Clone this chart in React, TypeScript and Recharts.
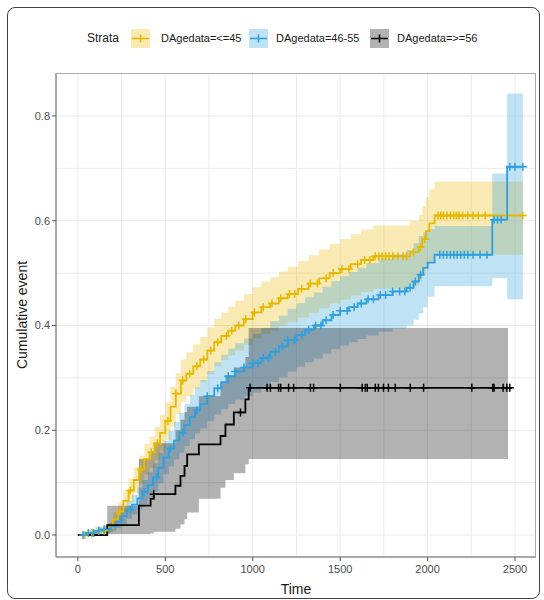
import React from 'react';
import { ComposedChart, Area, Line, Scatter, XAxis, YAxis, CartesianGrid } from 'recharts';

// DAgedata=<=45 : KM cumulative event with 95% CI
const youngTime = [0, 60, 110, 170, 200, 230, 260, 290, 320, 350, 380, 410, 440, 470, 500, 530, 560, 590, 620, 660, 700, 740, 780, 820, 860, 900, 950, 1000, 1050, 1100, 1150, 1200, 1260, 1320, 1380, 1440, 1500, 1560, 1620, 1690, 1900, 1950, 1970, 1990, 2010, 2040, 2545];
const youngEst = [0, 0.004, 0.008, 0.014, 0.03, 0.045, 0.065, 0.085, 0.105, 0.125, 0.145, 0.158, 0.175, 0.195, 0.218, 0.245, 0.27, 0.295, 0.308, 0.322, 0.335, 0.352, 0.368, 0.38, 0.39, 0.4, 0.412, 0.425, 0.435, 0.442, 0.452, 0.46, 0.47, 0.48, 0.49, 0.5, 0.508, 0.517, 0.525, 0.532, 0.54, 0.55, 0.565, 0.58, 0.595, 0.61, 0.61];
const youngLow = [0, 0, 0.002, 0.005, 0.016, 0.028, 0.045, 0.062, 0.08, 0.098, 0.116, 0.128, 0.143, 0.161, 0.182, 0.207, 0.23, 0.254, 0.266, 0.279, 0.291, 0.307, 0.322, 0.334, 0.343, 0.352, 0.363, 0.375, 0.384, 0.39, 0.399, 0.406, 0.415, 0.424, 0.433, 0.442, 0.449, 0.457, 0.464, 0.47, 0.476, 0.485, 0.497, 0.51, 0.522, 0.535, 0.535];
const youngHigh = [0, 0.009, 0.015, 0.024, 0.044, 0.062, 0.085, 0.108, 0.13, 0.152, 0.174, 0.188, 0.207, 0.229, 0.254, 0.283, 0.309, 0.335, 0.349, 0.364, 0.378, 0.396, 0.413, 0.425, 0.436, 0.447, 0.46, 0.473, 0.484, 0.492, 0.503, 0.512, 0.523, 0.534, 0.545, 0.556, 0.565, 0.574, 0.583, 0.591, 0.6, 0.611, 0.628, 0.645, 0.66, 0.675, 0.675];
const youngCensor = [40, 80, 120, 150, 240, 300, 360, 420, 455, 515, 560, 600, 640, 680, 720, 760, 800, 850, 880, 920, 960, 1010, 1060, 1110, 1160, 1210, 1240, 1280, 1330, 1370, 1420, 1460, 1510, 1550, 1600, 1640, 1670, 1700, 1720, 1740, 1760, 1780, 1800, 1830, 1860, 1880, 1920, 1960, 1985, 2060, 2075, 2090, 2110, 2130, 2150, 2165, 2180, 2200, 2230, 2260, 2290, 2330, 2545];

// DAgedata=46-55
const midTime = [0, 50, 100, 150, 190, 220, 250, 280, 310, 340, 370, 400, 430, 460, 490, 520, 550, 580, 610, 640, 670, 700, 740, 780, 820, 860, 900, 950, 1000, 1050, 1100, 1150, 1200, 1250, 1300, 1350, 1400, 1450, 1500, 1550, 1600, 1650, 1720, 1800, 1880, 1920, 1950, 1975, 2000, 2040, 2370, 2455, 2545];
const midEst = [0, 0.004, 0.008, 0.011, 0.016, 0.025, 0.036, 0.048, 0.058, 0.07, 0.082, 0.095, 0.11, 0.128, 0.148, 0.165, 0.18, 0.195, 0.21, 0.225, 0.238, 0.25, 0.265, 0.28, 0.292, 0.303, 0.312, 0.32, 0.328, 0.338, 0.35, 0.36, 0.372, 0.382, 0.392, 0.4, 0.41, 0.42, 0.428, 0.435, 0.442, 0.45, 0.458, 0.465, 0.472, 0.484, 0.497, 0.51, 0.52, 0.535, 0.602, 0.703, 0.703];
const midLow = [0, 0, 0.002, 0.004, 0.007, 0.013, 0.021, 0.031, 0.039, 0.049, 0.059, 0.07, 0.083, 0.099, 0.116, 0.131, 0.144, 0.157, 0.17, 0.183, 0.194, 0.204, 0.217, 0.23, 0.24, 0.25, 0.258, 0.265, 0.272, 0.281, 0.292, 0.301, 0.312, 0.321, 0.33, 0.337, 0.346, 0.355, 0.362, 0.368, 0.374, 0.381, 0.388, 0.394, 0.4, 0.411, 0.423, 0.435, 0.455, 0.475, 0.49, 0.45, 0.45];
const midHigh = [0, 0.009, 0.015, 0.019, 0.026, 0.038, 0.051, 0.065, 0.077, 0.091, 0.105, 0.12, 0.137, 0.157, 0.18, 0.199, 0.216, 0.233, 0.25, 0.267, 0.282, 0.296, 0.313, 0.33, 0.344, 0.356, 0.366, 0.375, 0.384, 0.395, 0.408, 0.419, 0.432, 0.443, 0.454, 0.463, 0.474, 0.485, 0.494, 0.502, 0.51, 0.519, 0.528, 0.536, 0.544, 0.557, 0.571, 0.578, 0.584, 0.59, 0.69, 0.843, 0.843];
const midCensor = [30, 60, 90, 120, 150, 300, 380, 450, 530, 600, 680, 740, 800, 860, 900, 950, 1000, 1030, 1060, 1090, 1130, 1170, 1200, 1240, 1280, 1320, 1360, 1390, 1420, 1460, 1500, 1540, 1580, 1620, 1660, 1690, 1730, 1760, 1800, 1840, 1870, 1900, 1930, 1960, 2070, 2090, 2110, 2130, 2150, 2170, 2190, 2210, 2230, 2260, 2300, 2340, 2380, 2400, 2420, 2470, 2500, 2545];

// DAgedata=>=56
const oldTime = [0, 168, 349, 416, 434, 558, 587, 610, 625, 692, 816, 844, 892, 958, 977, 2485];
const oldEst = [0, 0.019, 0.056, 0.069, 0.078, 0.094, 0.113, 0.132, 0.154, 0.173, 0.189, 0.211, 0.234, 0.259, 0.281, 0.281];
const oldBandTime = [0, 168, 349, 416, 434, 558, 587, 610, 625, 692, 816, 844, 892, 958, 977, 2460];
const oldLow = [0, 0.002, 0.002, 0.003, 0.006, 0.012, 0.02, 0.03, 0.043, 0.069, 0.09, 0.105, 0.118, 0.135, 0.145, 0.145];
const oldHigh = [0, 0.056, 0.145, 0.16, 0.175, 0.2, 0.22, 0.235, 0.245, 0.265, 0.29, 0.305, 0.32, 0.34, 0.395, 0.395];
const oldCensor = [434, 930, 985, 1082, 1101, 1148, 1160, 1205, 1234, 1330, 1348, 1501, 1626, 1644, 1655, 1701, 1719, 1748, 1776, 1815, 1901, 1977, 2253, 2373, 2380, 2432, 2453, 2470];

const xTicks = [0, 500, 1000, 1500, 2000, 2500];
const yTicks = [0, 0.2, 0.4, 0.6, 0.8];
const xGrid = [0, 250, 500, 750, 1000, 1250, 1500, 1750, 2000, 2250, 2500];
const yGrid = [0, 0.1, 0.2, 0.3, 0.4, 0.5, 0.6, 0.7, 0.8];

const stepRows = (time: number[], est: number[]) => time.map((t, i) => ({ t, est: est[i] }));
const bandRows = (time: number[], low: number[], high: number[]) =>
  time.map((t, i) => ({ t, band: [low[i], high[i]] }));
// censored subjects sit on the curve value in force at their time
const censorRows = (time: number[], est: number[], censor: number[]) =>
  censor.map((t) => {
    let v = est[0];
    time.forEach((s, i) => {
      if (s <= t) v = est[i];
    });
    return { t, v };
  });

const strata = [
  {
    key: 'young',
    label: 'DAgedata=<=45',
    color: '#E7B800',
    line: stepRows(youngTime, youngEst),
    band: bandRows(youngTime, youngLow, youngHigh),
    marks: censorRows(youngTime, youngEst, youngCensor),
  },
  {
    key: 'mid',
    label: 'DAgedata=46-55',
    color: '#2E9FDF',
    line: stepRows(midTime, midEst),
    band: bandRows(midTime, midLow, midHigh),
    marks: censorRows(midTime, midEst, midCensor),
  },
  {
    key: 'old',
    label: 'DAgedata=>=56',
    color: '#000000',
    line: stepRows(oldTime, oldEst),
    band: bandRows(oldBandTime, oldLow, oldHigh),
    marks: censorRows(oldTime, oldEst, oldCensor),
  },
];

const FONT = '"Liberation Sans", Arial, sans-serif';

const Plus = ({ cx, cy, color }: { cx: number; cy: number; color: string }) => (
  <path d={`M${cx - 4},${cy}H${cx + 4}M${cx},${cy - 4}V${cy + 4}`} stroke={color} strokeWidth={1.5} fill="none" />
);

const KeyBox = ({ color }: { color: string }) => (
  <svg width={19} height={19} style={{ display: 'block' }}>
    <rect x={0} y={0} width={19} height={19} fill={color} fillOpacity={0.3} />
    <path d="M1,9.5H18M9.5,5.5V13.5" stroke={color} strokeWidth={1.6} />
  </svg>
);

const legendPos = [
  { box: 131, text: 161 },
  { box: 249, text: 276 },
  { box: 370, text: 397 },
];

export default function App() {
  return (
    <div style={{ position: 'relative', width: 544, height: 600, overflow: 'hidden', fontFamily: FONT, background: '#fff' }}>
      <style>{'body{margin:0}'}</style>
      <div
        style={{
          position: 'absolute',
          left: 7,
          top: 7,
          width: 533,
          height: 592,
          border: '1.5px solid #444',
          borderRadius: 8,
          boxSizing: 'border-box',
        }}
      />
      <div style={{ position: 'absolute', left: 87, top: 31, fontSize: 12, color: '#1a1a1a' }}>Strata</div>
      {strata.map((s, i) => (
        <React.Fragment key={s.key}>
          <div style={{ position: 'absolute', left: legendPos[i].box, top: 29 }}>
            <KeyBox color={s.color} />
          </div>
          <div style={{ position: 'absolute', left: legendPos[i].text, top: 32, fontSize: 11, color: '#1a1a1a' }}>
            {s.label}
          </div>
        </React.Fragment>
      ))}
      <div style={{ position: 'absolute', left: 0, top: 0 }}>
        <ComposedChart width={544} height={600} margin={{ top: 73, right: 8, bottom: 0, left: 0 }}>
          <CartesianGrid
            horizontalValues={yGrid}
            verticalValues={xGrid}
            stroke="#ebebeb"
            strokeWidth={1}
          />
          <XAxis
            type="number"
            dataKey="t"
            domain={[-125, 2620]}
            allowDataOverflow
            ticks={xTicks}
            height={43}
            tickSize={4}
            tickMargin={4}
            stroke="#555"
            tick={{ fill: '#4d4d4d', fontSize: 11, fontFamily: FONT }}
            label={{ value: 'Time', position: 'insideBottom', offset: 6, fill: '#1a1a1a', fontSize: 14, fontFamily: FONT }}
          />
          <YAxis
            type="number"
            domain={[-0.042, 0.882]}
            allowDataOverflow
            ticks={yTicks}
            width={56}
            tickSize={4}
            tickMargin={2}
            stroke="#555"
            tickFormatter={(v: number) => v.toFixed(1)}
            tick={{ fill: '#4d4d4d', fontSize: 11, fontFamily: FONT }}
            label={(props: any) => {
              const vb = props.viewBox;
              const x = vb.x + 22;
              const y = vb.y + vb.height / 2;
              return (
                <text
                  x={x}
                  y={y}
                  transform={`rotate(-90 ${x} ${y})`}
                  textAnchor="middle"
                  dominantBaseline="central"
                  fill="#1a1a1a"
                  fontSize={14}
                  fontFamily={FONT}
                >
                  Cumulative event
                </text>
              );
            }}
          />
          {strata.map((s) => (
            <Area
              key={`band-${s.key}`}
              data={s.band}
              dataKey="band"
              type="stepAfter"
              stroke="none"
              fill={s.color}
              fillOpacity={0.3}
              dot={false}
              activeDot={false}
              isAnimationActive={false}
            />
          ))}
          {strata.map((s) => (
            <Line
              key={`line-${s.key}`}
              data={s.line}
              dataKey="est"
              type="stepAfter"
              stroke={s.color}
              strokeWidth={1.8}
              dot={false}
              activeDot={false}
              isAnimationActive={false}
            />
          ))}
          {strata.map((s) => (
            <Scatter
              key={`cens-${s.key}`}
              data={s.marks}
              dataKey="v"
              shape={(p: any) => <Plus cx={p.cx} cy={p.cy} color={s.color} />}
              isAnimationActive={false}
            />
          ))}
        </ComposedChart>
      </div>
      <div
        style={{
          position: 'absolute',
          left: 56,
          top: 73,
          width: 480,
          height: 484,
          borderTop: '1px solid #aaa',
          borderRight: '1px solid #aaa',
          boxSizing: 'border-box',
          pointerEvents: 'none',
        }}
      />
    </div>
  );
}
